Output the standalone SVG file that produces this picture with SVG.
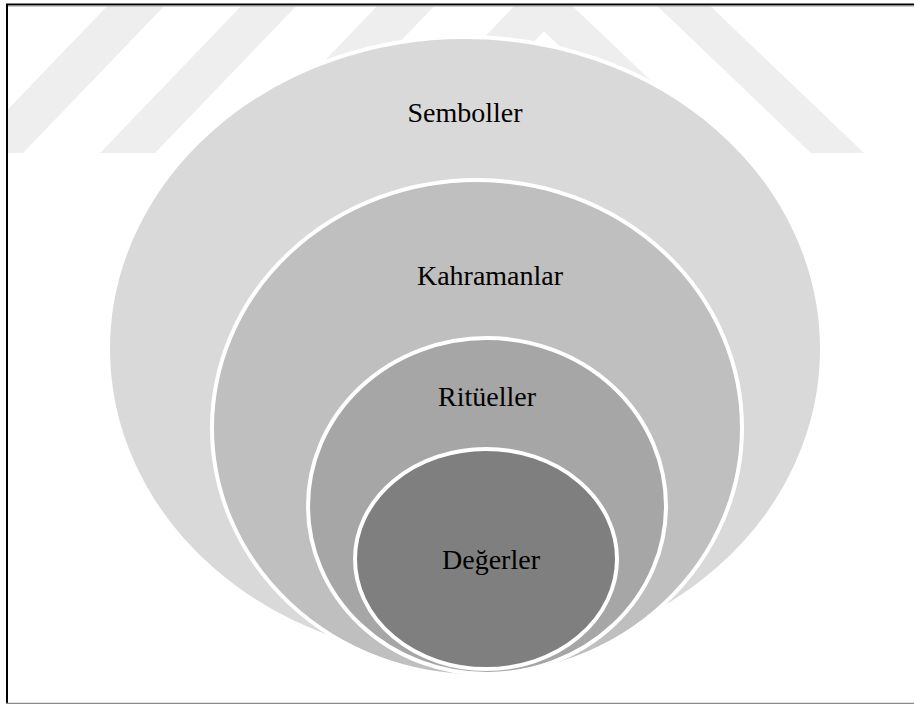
<svg xmlns="http://www.w3.org/2000/svg" width="914" height="704" viewBox="0 0 914 704">
  <defs>
    <style>
      .ring { stroke: #ffffff; stroke-width: 4; }
      .label { font-family: "Liberation Serif", "Times New Roman", serif; font-size: 28px; fill: #000000; text-anchor: middle; }
      .stripe { fill: #eeeeee; }
    </style>
    <clipPath id="frameClip">
      <rect x="8" y="6" width="906" height="697"/>
    </clipPath>
  </defs>

  <rect x="0" y="0" width="914" height="704" fill="#ffffff"/>

  <!-- faint background stripes -->
  <g id="backdrop" clip-path="url(#frameClip)">
    <polygon class="stripe" points="113,0 170,0 23,153 -34,153"/>
    <polygon class="stripe" points="247,0 302,0 155,153 100,153"/>
    <polygon class="stripe" points="383,0 440,0 293,153 236,153"/>
    <polygon class="stripe" points="520,0 574,0 427,153 373,153"/>
    <polygon class="stripe" points="511,0 566,0 727,153 672,153"/>
    <polygon class="stripe" points="651,0 704,0 864,153 811,153"/>
  </g>

  <!-- frame -->
  <g id="frame">
    <line x1="6" y1="4.5" x2="914" y2="4.5" stroke="#000000" stroke-width="2"/>
    <line x1="6" y1="6" x2="914" y2="6" stroke="#9a9a9a" stroke-width="1"/>
    <line x1="7" y1="4" x2="7" y2="704" stroke="#000000" stroke-width="2"/>
    <line x1="6" y1="703.5" x2="914" y2="703.5" stroke="#8c8c8c" stroke-width="1.5"/>
  </g>

  <!-- nested layers, outermost first -->
  <g id="semboller">
    <ellipse class="ring" cx="465" cy="349" rx="357" ry="312" fill="#d9d9d9"/>
    <text class="label" x="465" y="122">Semboller</text>
  </g>
  <g id="kahramanlar">
    <ellipse class="ring" cx="477" cy="428" rx="265" ry="248" fill="#bfbfbf"/>
    <text class="label" x="490" y="285">Kahramanlar</text>
  </g>
  <g id="ritueller">
    <ellipse class="ring" cx="487" cy="506" rx="179" ry="168" fill="#a6a6a6"/>
    <text class="label" x="487" y="406">Ritüeller</text>
  </g>
  <g id="degerler">
    <ellipse class="ring" cx="486" cy="559" rx="131" ry="110" fill="#7f7f7f"/>
    <text class="label" x="491" y="569">Değerler</text>
  </g>

  <g id="connectors"/>
</svg>
